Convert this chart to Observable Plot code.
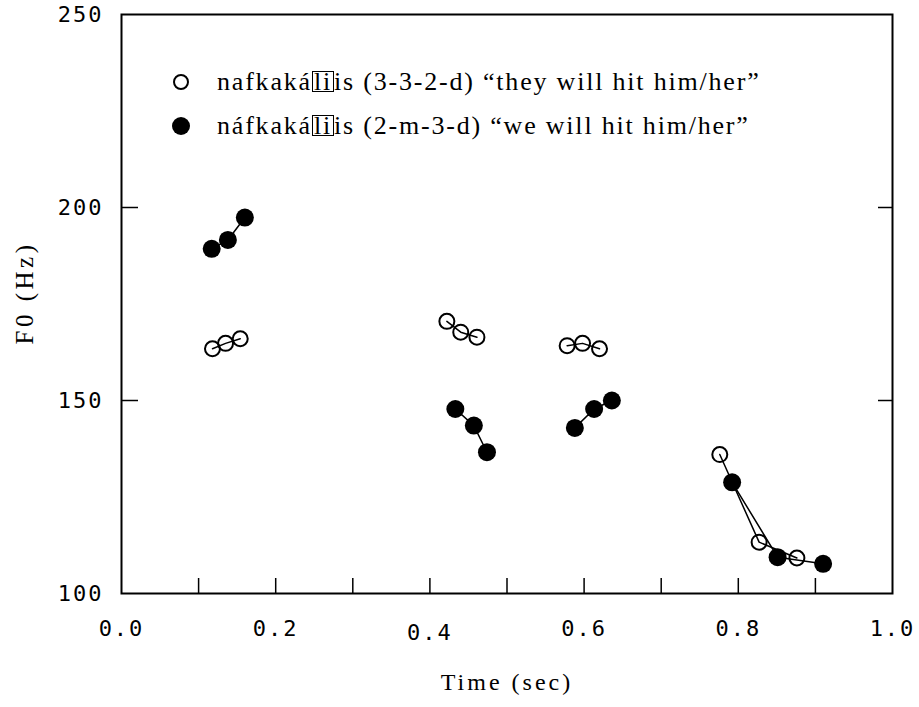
<!DOCTYPE html>
<html>
<head>
<meta charset="utf-8">
<script src="https://cdn.jsdelivr.net/npm/d3@7"></script>
<script src="https://cdn.jsdelivr.net/npm/@observablehq/plot@0.6"></script>
<style>
  html, body { margin: 0; padding: 0; background: white; }
  #wrap { position: relative; width: 919px; height: 707px; }
  #legend { position: absolute; left: 170px; top: 60px; font-family: "Liberation Serif", serif; font-size: 26px; color: black; }
  .row { position: relative; height: 44px; display: flex; align-items: center; }
  .sym { display: inline-block; box-sizing: border-box; border-radius: 50%; margin-left: 3px; margin-right: 28px; }
  .open { width: 16px; height: 16px; border: 2px solid black; }
  .filled { width: 18px; height: 18px; background: black; margin-left: 2px; margin-right: 27px; }
  .txt { letter-spacing: 1.8px; white-space: nowrap; }
  .box { border: 1.5px solid black; padding: 0 1px; line-height: 19px; display: inline-block; }
</style>
</head>
<body>
<div id="wrap">
  <div id="chart"></div>
  <div id="legend"></div>
</div>
<script>
// Series: open circles, nafkakáliis (3-3-2-d) "they will hit him/her"
const openTime = [0.118, 0.135, 0.154, 0.422, 0.440, 0.461, 0.578, 0.598, 0.620, 0.776, 0.827, 0.876];
const openF0   = [163.4, 164.8, 166.0, 170.5, 167.7, 166.4, 164.2, 164.8, 163.4, 136.0, 113.3, 109.2];
// Series: filled circles, náfkakáliis (2-m-3-d) "we will hit him/her"
const filledTime = [0.117, 0.138, 0.160, 0.433, 0.457, 0.474, 0.588, 0.613, 0.636, 0.792, 0.851, 0.910];
const filledF0   = [189.3, 191.6, 197.4, 147.8, 143.5, 136.6, 142.9, 147.8, 150.0, 128.8, 109.4, 107.7];
// syllable segment each point belongs to
const segment = [1, 1, 1, 2, 2, 2, 3, 3, 3, 4, 4, 4];

const xTickLabels = [0.0, 0.2, 0.4, 0.6, 0.8, 1.0];
const xTickMarks = [0.1, 0.2, 0.3, 0.4, 0.5, 0.6, 0.7, 0.8, 0.9];
const yTickLabels = [100, 150, 200, 250];
const yTickMarks = [150, 200];
const xTitle = "Time (sec)";
const yTitle = "F0 (Hz)";

const legendLabels = [
  {kind: "open", pre: "nafkaká", boxed: "li", post: "is (3-3-2-d) “they will hit him/her”"},
  {kind: "filled", pre: "náfkaká", boxed: "li", post: "is (2-m-3-d) “we will hit him/her”"}
];

const openData = openTime.map((t, i) => ({t, f: openF0[i], seg: segment[i]}));
const filledData = filledTime.map((t, i) => ({t, f: filledF0[i], seg: segment[i]}));

const tickFont = "DejaVu Sans Mono, monospace";
const fmtX = d => d.toFixed(1);

const chart = Plot.plot({
  width: 919,
  height: 707,
  marginLeft: 121,
  marginRight: 27,
  marginTop: 14,
  marginBottom: 114,
  style: {background: "white", color: "black"},
  x: {domain: [0, 1]},
  y: {domain: [100, 250]},
  marks: [
    Plot.axisX({ticks: xTickLabels, tickSize: 0, tickPadding: 27, tickFormat: fmtX, label: null, fontSize: 22, fontFamily: tickFont}),
    Plot.axisX({ticks: xTickMarks, tickSize: -15, text: null, label: null, strokeWidth: 1.5}),
    Plot.axisY({ticks: yTickLabels, tickSize: 0, tickPadding: 18, label: null, fontSize: 22, fontFamily: tickFont}),
    Plot.axisY({ticks: yTickMarks, tickSize: -17, text: null, label: null, strokeWidth: 1.5}),
    Plot.axisY({anchor: "right", ticks: yTickMarks, tickSize: -15, text: null, label: null, strokeWidth: 1.5}),
    Plot.frame({stroke: "black", strokeWidth: 2}),
    Plot.line(openData, {x: "t", y: "f", z: "seg", stroke: "black", strokeWidth: 1.5}),
    Plot.line(filledData, {x: "t", y: "f", z: "seg", stroke: "black", strokeWidth: 1.5}),
    Plot.dot(openData, {x: "t", y: "f", r: 7.5, stroke: "black", strokeWidth: 2, fill: "none"}),
    Plot.dot(filledData, {x: "t", y: "f", r: 9, fill: "black", stroke: "none"}),
    Plot.text([xTitle], {frameAnchor: "bottom", textAnchor: "middle", dy: 96, text: d => d, fontSize: 24, fontFamily: "Liberation Serif, serif"}),
    Plot.text([yTitle], {frameAnchor: "left", textAnchor: "middle", dx: -97, dy: -11, rotate: -90, text: d => d, fontSize: 25, fontFamily: "Liberation Serif, serif"})
  ]
});
document.getElementById("chart").appendChild(chart);

// letter spacing to mimic the wide bitmap fonts of the original
const tickTexts = new Set([...xTickLabels.map(fmtX), ...yTickLabels.map(String)]);
d3.select(chart).selectAll("text").each(function() {
  const s = this.textContent;
  const el = d3.select(this);
  if (tickTexts.has(s)) el.style("letter-spacing", "2px");
  if (s === "0.4") el.attr("transform", function() { return (this.getAttribute("transform") || "") + " translate(0,4)"; });
  if (s === xTitle) el.style("letter-spacing", "3px");
  if (s === yTitle) el.style("letter-spacing", "3.5px");
});

const legend = document.getElementById("legend");
for (const l of legendLabels) {
  const row = document.createElement("div");
  row.className = "row";
  const sym = document.createElement("span");
  sym.className = "sym " + l.kind;
  row.appendChild(sym);
  const txt = document.createElement("span");
  txt.className = "txt";
  txt.appendChild(document.createTextNode(l.pre));
  const b = document.createElement("span");
  b.className = "box";
  b.textContent = l.boxed;
  txt.appendChild(b);
  txt.appendChild(document.createTextNode(l.post));
  row.appendChild(txt);
  legend.appendChild(row);
}
</script>
</body>
</html>
